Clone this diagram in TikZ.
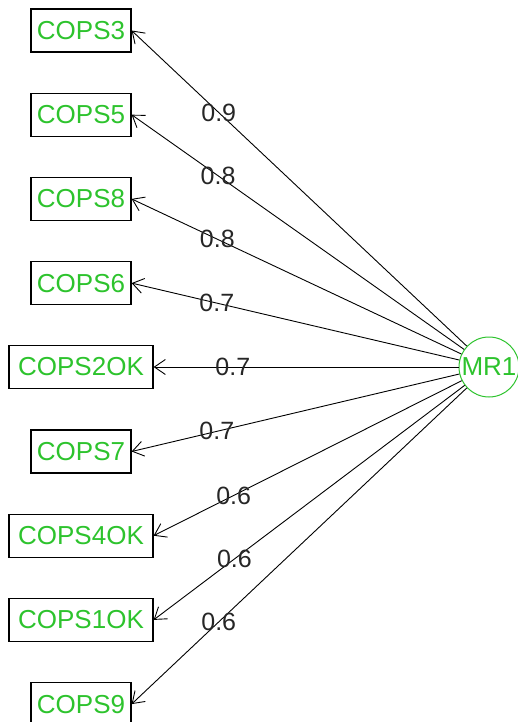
\documentclass[tikz,border=0pt]{standalone}
\usepackage{fontspec}
\setmainfont{Liberation Sans}
\usetikzlibrary{arrows.meta}
\definecolor{qgreen}{RGB}{45,195,45}
\begin{document}
\begin{tikzpicture}[x=1pt,y=-1pt,
  ind/.style={draw=black,line width=1.2pt,minimum height=43pt,inner sep=0pt,
    font=\fontsize{26}{26}\selectfont,text=qgreen},
  sm/.style={ind,minimum width=100pt},
  lg/.style={ind,minimum width=144pt},
  lat/.style={circle,draw=qgreen,line width=1pt,minimum size=60pt,inner sep=0pt,
    font=\fontsize{26}{26}\selectfont,text=qgreen},
  load/.style={line width=0.9pt,-{Straight Barb[length=11pt,width=15pt,line width=0.9pt]}},
  lbl/.style={pos=0.74,font=\fontsize{25}{25}\selectfont,text=black!85,inner sep=0pt}
]
\useasboundingbox (0,0) rectangle (517,722);
\node[sm] (c3) at (81,30.5) {COPS3};
\node[sm] (c5) at (81,114.7) {COPS5};
\node[sm] (c8) at (81,198.9) {COPS8};
\node[sm] (c6) at (81,283.1) {COPS6};
\node[lg] (c2) at (81,367) {COPS2OK};
\node[sm] (c7) at (81,451.5) {COPS7};
\node[lg] (c4) at (81,535.7) {COPS4OK};
\node[lg] (c1) at (81,619.9) {COPS1OK};
\node[sm] (c9) at (81,704.1) {COPS9};
\node[lat] (mr) at (489,367) {MR1};
\draw[load] (mr) -- node[lbl] {0.9} (c3.east);
\draw[load] (mr) -- node[lbl] {0.8} (c5.east);
\draw[load] (mr) -- node[lbl] {0.8} (c8.east);
\draw[load] (mr) -- node[lbl] {0.7} (c6.east);
\draw[load] (mr) -- node[lbl] {0.7} (c2.east);
\draw[load] (mr) -- node[lbl] {0.7} (c7.east);
\draw[load] (mr) -- node[lbl] {0.6} (c4.east);
\draw[load] (mr) -- node[lbl] {0.6} (c1.east);
\draw[load] (mr) -- node[lbl] {0.6} (c9.east);
\end{tikzpicture}
\end{document}
